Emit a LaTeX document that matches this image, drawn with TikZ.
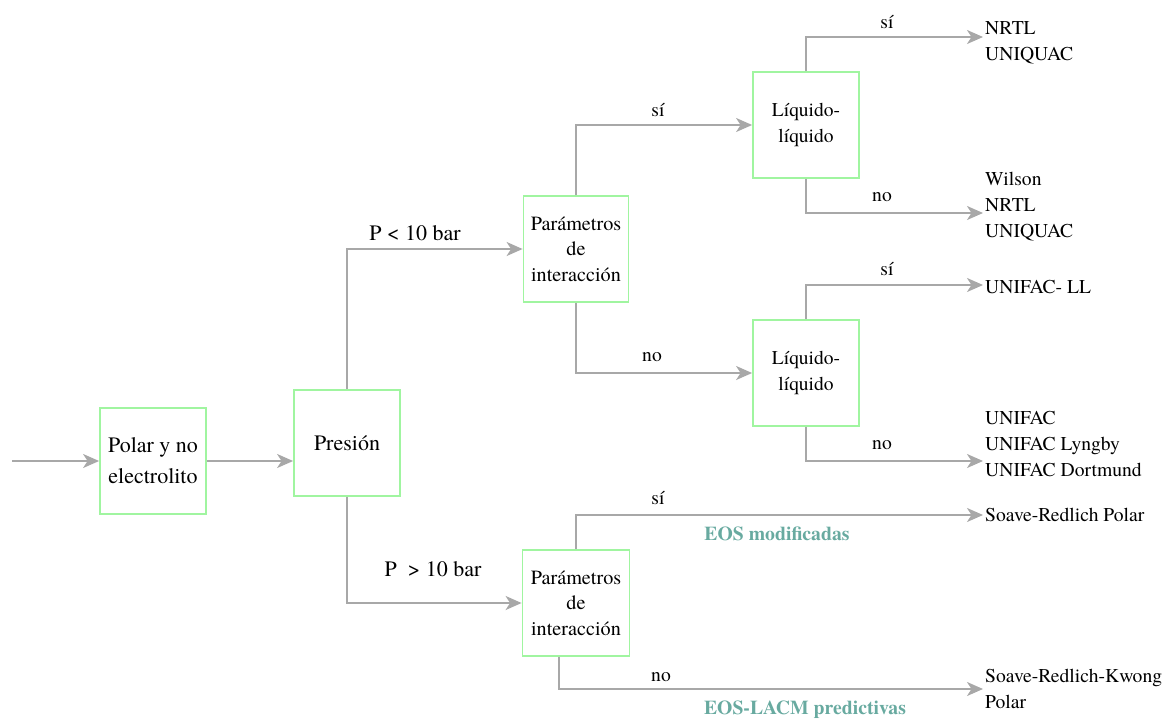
\documentclass[tikz,border=0pt]{standalone}
\usepackage{fontspec}
\setmainfont{texgyretermes}[Extension=.otf, UprightFont=*-regular, BoldFont=*-bold, ItalicFont=*-italic, BoldItalicFont=*-bolditalic]
\usetikzlibrary{arrows.meta}
\definecolor{boxgreen}{RGB}{160,245,160}
\definecolor{linegray}{RGB}{168,168,168}
\definecolor{teallab}{RGB}{104,170,160}
\tikzset{
  box/.style={draw=boxgreen, line width=1.8pt, fill=white, minimum width=106pt, minimum height=106pt, inner sep=0pt, align=center, font=\fontsize{19.5}{25.5}\selectfont},
  parbox/.style={box, font=\fontsize{20.2}{25.5}\selectfont},
  bigbox/.style={box, font=\fontsize{22}{31}\selectfont},
  arr/.style={draw=linegray, line width=2pt, -{Stealth[length=16pt,width=14pt,inset=4.5pt]}},
  lab/.style={font=\fontsize{19.6}{26}\selectfont, inner sep=0pt},
  plab/.style={font=\fontsize{22}{26}\selectfont, inner sep=0pt},
  res/.style={font=\fontsize{19.6}{26}\selectfont, inner sep=0pt, anchor=west, align=left},
  eos/.style={font=\fontsize{19.7}{26}\selectfont\bfseries, text=teallab, inner sep=0pt}
}
\begin{document}
\begin{tikzpicture}[x=1pt,y=-1pt]
\useasboundingbox (0,0) rectangle (1170,720);
\node[bigbox] (polar) at (153,461) {Polar y no\\electrolito};
\node[bigbox] (pres) at (347,443) {Presión};
\node[parbox, minimum width=105pt] (p1) at (576,249) {Parámetros\\de\\interacción};
\node[box] (l1) at (806,125) {Líquido-\\líquido};
\node[box] (l2) at (806,373) {Líquido-\\líquido};
\node[parbox, minimum width=107pt] (p2) at (576,603) {Parámetros\\de\\interacción};

\coordinate (in) at (12,461);
\coordinate (t1) at (983,37);
\coordinate (t2) at (983,213);
\coordinate (t3) at (983,285);
\coordinate (t4) at (983,461);
\coordinate (t5) at (983,515);
\coordinate (t6) at (983,689);

\draw[arr] (in) -- (polar.west);
\draw[arr] (polar.east) -- (polar.east -| pres.west);
\draw[arr] (pres.north) |- (p1.west);
\draw[arr] (pres.south) |- (p2.west);
\draw[arr] (p1.north) |- (l1.west);
\draw[arr] (p1.south) |- (l2.west);
\draw[arr] (l1.north) |- (t1);
\draw[arr] (l1.south) |- (t2);
\draw[arr] (l2.north) |- (t3);
\draw[arr] (l2.south) |- (t4);
\draw[arr] (p2.north) |- (t5);
\draw[arr] ([xshift=-17pt]p2.south) |- (t6);

\node[plab] (lp1) at (415,233) {P < 10 bar};
\node[plab] (lp2) at (433,569) {P\ \ > 10 bar};
\node[lab] (s1) at (658,110) {sí};
\node[lab] (n1) at (652,357) {no};
\node[lab] (s2) at (887,22) {sí};
\node[lab] (n2) at (882,197) {no};
\node[lab] (s3) at (887,269) {sí};
\node[lab] (n3) at (882,445) {no};
\node[lab] (s4) at (658,498) {sí};
\node[lab] (n4) at (661,677) {no};
\node[eos] (e1) at (777,534) {EOS modificadas};
\node[eos] (e2) at (805,710) {EOS-LACM predictivas};

\node[res] (r1) at (985,43) {NRTL\\UNIQUAC};
\node[res] (r2) at (985,207) {Wilson\\NRTL\\UNIQUAC};
\node[res] (r3) at (985,287) {UNIFAC- LL};
\node[res] (r4) at (985,444) {UNIFAC\\UNIFAC Lyngby\\UNIFAC Dortmund};
\node[res] (r5) at (985,515) {Soave-Redlich Polar};
\node[res] (r6) at (985,689) {Soave-Redlich-Kwong\\Polar};
\end{tikzpicture}
\end{document}
